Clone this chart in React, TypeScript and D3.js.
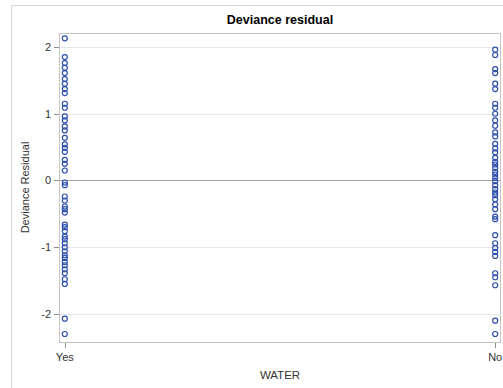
import React from "react";
import * as d3 from "d3";

// Deviance residuals by WATER group
const categories = ["Yes", "No"];
const residualsYes = [
  2.13, 1.85, 1.76, 1.69, 1.61, 1.52, 1.45, 1.37, 1.31, 1.15, 1.09, 0.96, 0.9,
  0.81, 0.75, 0.64, 0.54, 0.49, 0.43, 0.31, 0.25, 0.15, -0.03, -0.07, -0.24,
  -0.3, -0.39, -0.43, -0.48, -0.66, -0.7, -0.76, -0.84, -0.88, -0.94, -1.0,
  -1.06, -1.12, -1.16, -1.22, -1.27, -1.33, -1.39, -1.48, -1.55, -2.07, -2.3,
];
const residualsNo = [
  1.96, 1.88, 1.67, 1.61, 1.45, 1.37, 1.15, 1.09, 1.0, 0.9, 0.82, 0.72, 0.66,
  0.55, 0.48, 0.42, 0.34, 0.28, 0.24, 0.19, 0.13, 0.09, 0.04, -0.01, -0.07,
  -0.13, -0.18, -0.22, -0.28, -0.36, -0.43, -0.54, -0.58, -0.82, -0.94, -1.01,
  -1.07, -1.13, -1.39, -1.45, -1.57, -2.1, -2.3,
];
const yTicks = [-2, -1, 0, 1, 2];

const W = 503;
const H = 388;
const plot = { left: 59, right: 501, top: 33, bottom: 342 };

export default function App() {
  const x = d3
    .scalePoint<string>()
    .domain(categories)
    .range([plot.left, plot.right])
    .padding(0.0135);
  const y = d3.scaleLinear().domain([-2.42, 2.21]).range([plot.bottom, plot.top]);

  const series: [string, number[]][] = [
    ["Yes", residualsYes],
    ["No", residualsNo],
  ];
  const font = "Arial, 'Liberation Sans', sans-serif";
  const marker = "#2c4eae";

  return (
    <svg
      width={W}
      height={H}
      style={{ position: "absolute", left: 0, top: 0, background: "#fff" }}
      fontFamily={font}
    >
      {/* outer frame */}
      <rect x={11.5} y={5.5} width={W} height={H} fill="none" stroke="#d6d6d6" />

      <text x={(plot.left + plot.right) / 2} y={24} textAnchor="middle" fontSize={12.5} fontWeight="bold" fill="#000">
        Deviance residual
      </text>

      {/* gridlines */}
      {yTicks.map((t) => (
        <line
          key={"g" + t}
          x1={plot.left}
          x2={plot.right}
          y1={Math.round(y(t)) + 0.5}
          y2={Math.round(y(t)) + 0.5}
          stroke={t === 0 ? "#a0a0a0" : "#e6e6e6"}
          strokeWidth={1}
        />
      ))}

      {/* plot border */}
      <rect
        x={plot.left + 0.5}
        y={plot.top + 0.5}
        width={plot.right - plot.left - 1}
        height={plot.bottom - plot.top}
        fill="none"
        stroke="#c4c4c4"
      />

      {/* y axis ticks and labels */}
      {yTicks.map((t) => (
        <g key={"t" + t}>
          <line
            x1={plot.left - 5}
            x2={plot.left}
            y1={Math.round(y(t)) + 0.5}
            y2={Math.round(y(t)) + 0.5}
            stroke="#909090"
          />
          <text x={plot.left - 8} y={y(t) + 4} textAnchor="end" fontSize={11} fill="#333">
            {t}
          </text>
        </g>
      ))}

      {/* x axis ticks and labels */}
      {categories.map((c) => (
        <g key={"x" + c}>
          <line
            x1={Math.round(x(c)!) + 0.5}
            x2={Math.round(x(c)!) + 0.5}
            y1={plot.bottom + 1}
            y2={plot.bottom + 6}
            stroke="#909090"
          />
          <text x={x(c)} y={plot.bottom + 19} textAnchor="middle" fontSize={11} fill="#333">
            {c}
          </text>
        </g>
      ))}

      <text
        transform={`translate(29,${(plot.top + plot.bottom) / 2}) rotate(-90)`}
        textAnchor="middle"
        fontSize={11}
        fill="#333"
      >
        Deviance Residual
      </text>
      <text x={(plot.left + plot.right) / 2} y={379} textAnchor="middle" fontSize={11.5} fill="#333">
        WATER
      </text>

      {/* residual markers */}
      {series.map(([cat, vals]) =>
        vals.map((v, i) => (
          <circle
            key={cat + i}
            cx={x(cat)}
            cy={y(v)}
            r={2.5}
            fill="none"
            stroke={marker}
            strokeWidth={1.2}
          />
        ))
      )}
    </svg>
  );
}
